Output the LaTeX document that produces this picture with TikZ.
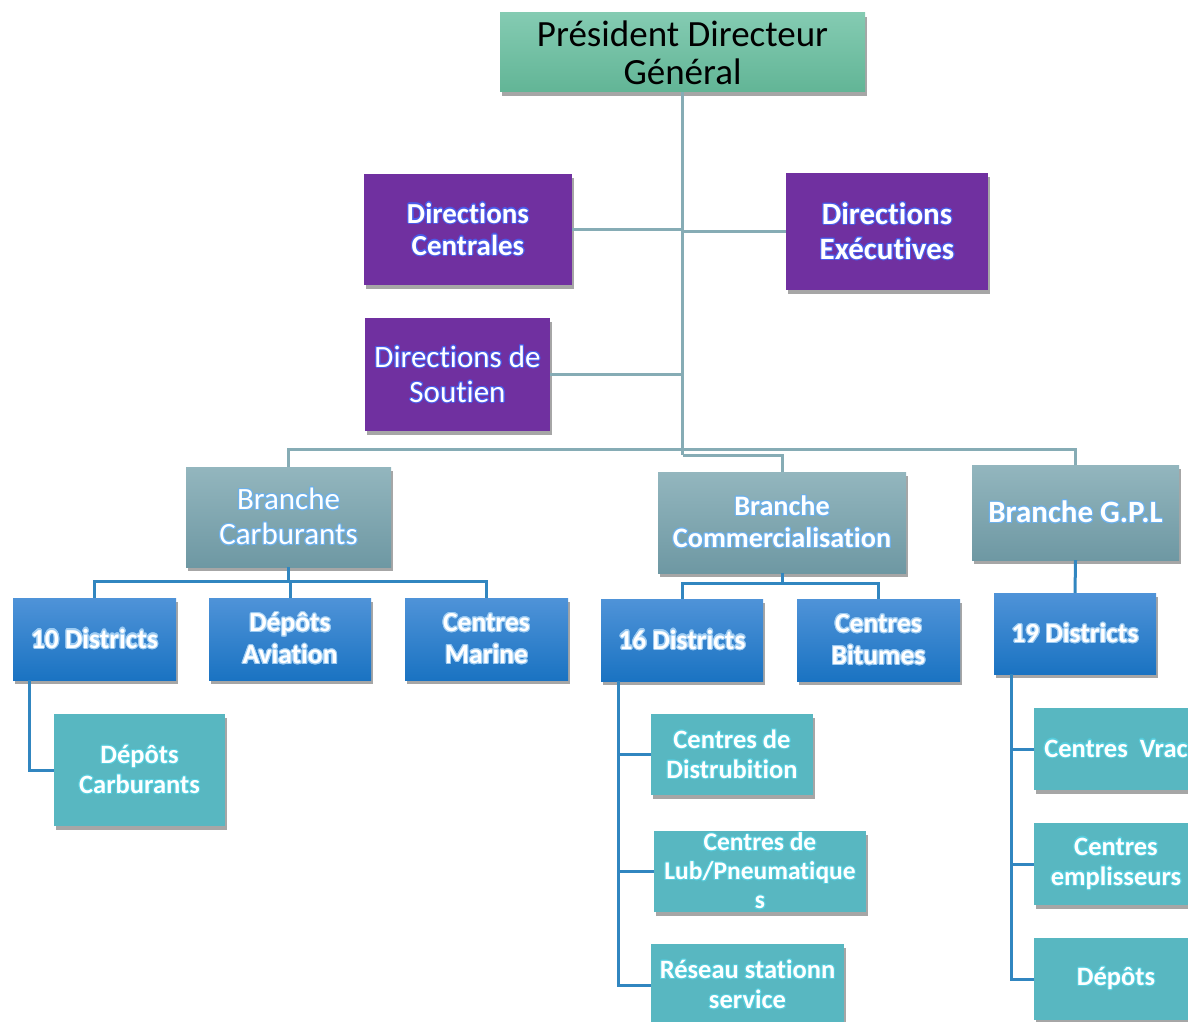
\documentclass[tikz,border=0pt]{standalone}
\usepackage{fontspec}
\setmainfont{Carlito}[Ligatures=NoCommon]
\usepackage[copies]{contour}
\contourlength{1.1pt}
\contournumber{16}
\usetikzlibrary{shadows}
\definecolor{pdgtop}{HTML}{84CBB2}
\definecolor{pdgbot}{HTML}{62B596}
\definecolor{purp}{HTML}{7030A0}
\definecolor{brtop}{HTML}{93B6BE}
\definecolor{brbot}{HTML}{6E98A3}
\definecolor{bltop}{HTML}{4F93D8}
\definecolor{blbot}{HTML}{1A73C2}
\definecolor{teal}{HTML}{58B7C1}
\definecolor{gconn}{HTML}{86ACB5}
\definecolor{bconn}{HTML}{3186C0}
\definecolor{glowpurp}{HTML}{4A5BE8}
\definecolor{glowbr}{HTML}{6CB0EA}
\definecolor{glowbl}{HTML}{9CCBF2}
\definecolor{glowteal}{HTML}{55CCDC}
\newcommand\glo[1]{\contour{glowc}{#1}}
\tikzset{
  box/.style={rectangle, inner sep=2pt, align=center,
    drop shadow={shadow xshift=2pt, shadow yshift=-4pt, opacity=0.35, fill=black}},
  pdgbox/.style={box, top color=pdgtop, bottom color=pdgbot, text=black,
    font=\fontsize{37}{38}\selectfont},
  purpbox/.style={box, fill=purp, text=white,
    font=\bfseries\fontsize{29}{32}\selectfont\colorlet{glowc}{glowpurp}},
  brbox/.style={box, top color=brtop, bottom color=brbot, text=white,
    font=\bfseries\fontsize{28}{32}\selectfont\colorlet{glowc}{glowbr}},
  blbox/.style={box, top color=bltop, bottom color=blbot, text=white,
    font=\bfseries\fontsize{27.5}{32}\selectfont\colorlet{glowc}{glowbl}},
  tlbox/.style={box, fill=teal, text=white,
    font=\bfseries\fontsize{26.5}{30}\selectfont\colorlet{glowc}{glowteal}},
  gline/.style={draw=gconn, line width=3pt},
  bline/.style={draw=bconn, line width=3pt},
}
\begin{document}
\begin{tikzpicture}[x=1pt,y=-1pt]
\useasboundingbox (0,0) rectangle (1188,1022);
% top
\node[pdgbox, minimum width=365, minimum height=79] (PDG) at (682.5,52.5) {Président Directeur\\Général};
\node[purpbox, minimum width=208, minimum height=111] (DC) at (468,229.5) {\glo{Directions}\\\glo{Centrales}};
\node[purpbox, minimum width=202, minimum height=117, font=\bfseries\fontsize{31}{35}\selectfont\colorlet{glowc}{glowpurp}] (DE) at (887,231.5) {\glo{Directions}\\\glo{Exécutives}};
\node[purpbox, minimum width=185, minimum height=113, font=\fontsize{31}{35}\selectfont\colorlet{glowc}{glowpurp}] (DS) at (457.5,374.5) {\glo{Directions de}\\\glo{Soutien}};
% branches
\node[brbox, minimum width=205, minimum height=100, font=\fontsize{31}{35}\selectfont\colorlet{glowc}{glowbr}] (BC) at (288.5,517) {\glo{Branche}\\\glo{Carburants}};
\node[brbox, minimum width=248, minimum height=101, font=\bfseries\fontsize{28.2}{32}\selectfont\colorlet{glowc}{glowbr}] (BCo) at (782,522.5) {\glo{Branche}\\\glo{Commercialisation}};
\node[brbox, minimum width=207, minimum height=95, font=\bfseries\fontsize{31}{35}\selectfont\colorlet{glowc}{glowbr}] (BG) at (1075.5,512.5) {\glo{Branche G.P.L}};
% blue level
\node[blbox, minimum width=163, minimum height=82] (D10) at (94.5,639) {\glo{10 Districts}};
\node[blbox, minimum width=162, minimum height=82] (DA) at (290,639) {\glo{Dépôts}\\\glo{Aviation}};
\node[blbox, minimum width=163, minimum height=82] (CM) at (486.5,639) {\glo{Centres}\\\glo{Marine}};
\node[blbox, minimum width=162, minimum height=82] (D16) at (682,640) {\glo{16 Districts}};
\node[blbox, minimum width=163, minimum height=82] (CB) at (878.5,640) {\glo{Centres}\\\glo{Bitumes}};
\node[blbox, minimum width=162, minimum height=81] (D19) at (1075,633.5) {\glo{19 Districts}};
% teal level
\node[tlbox, minimum width=171, minimum height=112] (DCa) at (139.5,770) {\glo{Dépôts}\\\glo{Carburants}};
\node[tlbox, minimum width=162, minimum height=81] (CD) at (732,754.5) {\glo{Centres de}\\\glo{Distrubition}};
\node[tlbox, minimum width=212, minimum height=81, inner sep=0pt, font=\bfseries\fontsize{25.5}{29}\selectfont\colorlet{glowc}{glowteal}] (CL) at (760,871.5) {\glo{Centres de}\\\glo{Lub/Pneumatique}\\\glo{s}};
\node[tlbox, minimum width=193, minimum height=82] (RS) at (747.5,985) {\glo{Réseau stationn}\\\glo{service}};
\node[tlbox, minimum width=164, minimum height=82] (CV) at (1116,749) {\glo{Centres\ \ Vrac}};
\node[tlbox, minimum width=164, minimum height=82] (CE) at (1116,864) {\glo{Centres}\\\glo{emplisseurs}};
\node[tlbox, minimum width=164, minimum height=82] (DP) at (1116,979) {\glo{Dépôts}};
% connectors (grey)
\coordinate (j1) at (682.5,455);
\coordinate (bus) at (682.5,449);
\draw[gline] (PDG.south) -- (j1);
\draw[gline] (DC.east) -- (DC.east -| PDG.south);
\draw[gline] (DE.west) -- (DE.west -| PDG.south);
\draw[gline] (DS.east) -- (DS.east -| PDG.south);
\draw[gline] (BC.north) -- (BC.north |- bus) -- (BG.north |- bus) -- (BG.north);
\draw[gline] (j1) -| (BCo.north);
% connectors (blue)
\coordinate (b1) at (0,581);
\coordinate (b2) at (0,583);
\draw[bline] (BC.south) -- (BC.south |- b1);
\draw[bline] (D10.north) -- (D10.north |- b1) -- (CM.north |- b1) -- (CM.north);
\draw[bline] (DA.north) -- (DA.north |- b1);
\draw[bline] (BCo.south) -- (BCo.south |- b2);
\draw[bline] (D16.north) -- (D16.north |- b2) -- (CB.north |- b2) -- (CB.north);
\draw[bline] (BG.south) -- (D19.north);
\coordinate (v10) at (29,680);
\coordinate (v16) at (618,681);
\coordinate (v19) at (1011,674);
\draw[bline] (v10) |- (DCa.west);
\draw[bline] (v16) |- (RS.west);
\draw[bline] (CD.west) -- (CD.west -| v16);
\draw[bline] (CL.west) -- (CL.west -| v16);
\draw[bline] (v19) |- (DP.west);
\draw[bline] (CV.west) -- (CV.west -| v19);
\draw[bline] (CE.west) -- (CE.west -| v19);
\end{tikzpicture}
\end{document}
